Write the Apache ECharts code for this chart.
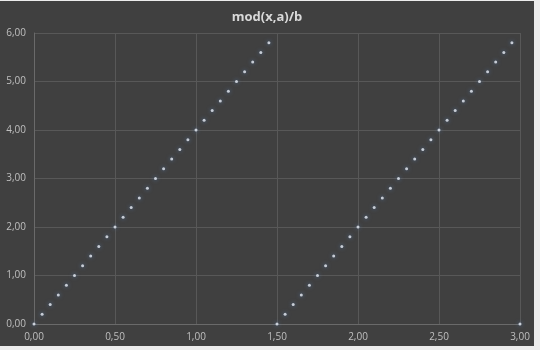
<!DOCTYPE html>
<html><head><meta charset="utf-8">
<script src="https://cdn.jsdelivr.net/npm/echarts@6/dist/echarts.min.js"></script>
<style>html,body{margin:0;padding:0;background:#ececec}#c{position:absolute;left:0;top:1px;width:534px;height:345px}</style>
</head><body><div id="c"></div>
<script>
var titleText = "mod(x,a)/b";
var xValues = [0.00,0.05,0.10,0.15,0.20,0.25,0.30,0.35,0.40,0.45,0.50,0.55,0.60,0.65,0.70,0.75,0.80,0.85,0.90,0.95,
  1.00,1.05,1.10,1.15,1.20,1.25,1.30,1.35,1.40,1.45,1.50,1.55,1.60,1.65,1.70,1.75,1.80,1.85,1.90,1.95,
  2.00,2.05,2.10,2.15,2.20,2.25,2.30,2.35,2.40,2.45,2.50,2.55,2.60,2.65,2.70,2.75,2.80,2.85,2.90,2.95,3.00];
var yValues = [0.0,0.2,0.4,0.6,0.8,1.0,1.2,1.4,1.6,1.8,2.0,2.2,2.4,2.6,2.8,3.0,3.2,3.4,3.6,3.8,
  4.0,4.2,4.4,4.6,4.8,5.0,5.2,5.4,5.6,5.8,0.0,0.2,0.4,0.6,0.8,1.0,1.2,1.4,1.6,1.8,
  2.0,2.2,2.4,2.6,2.8,3.0,3.2,3.4,3.6,3.8,4.0,4.2,4.4,4.6,4.8,5.0,5.2,5.4,5.6,5.8,0.0];
var data = xValues.map(function(x,i){return [x,yValues[i]];});
function fmt(v){return v.toFixed(2).replace('.',',');}
var chart = echarts.init(document.getElementById('c'), null, {renderer:'canvas'});
chart.setOption({
  backgroundColor:'#404040',
  animation:false,
  title:{text:titleText,left:'center',top:5,textStyle:{color:'#d9d9d9',fontSize:13,fontWeight:'bold',fontFamily:'Open Sans'}},
  grid:{left:34,right:14,top:32,bottom:22,containLabel:false},
  xAxis:{type:'value',min:0,max:3,interval:0.5,
    axisLine:{show:true,lineStyle:{color:'#6a6a6a'}},axisTick:{show:false},
    axisLabel:{color:'#bfbfbf',fontSize:10,fontFamily:'Open Sans',formatter:fmt,margin:8},
    splitLine:{show:true,lineStyle:{color:'#585858',width:1}}},
  yAxis:{type:'value',min:0,max:6,interval:1,
    axisLine:{show:true,lineStyle:{color:'#6a6a6a'}},axisTick:{show:false},
    axisLabel:{color:'#bfbfbf',fontSize:10,fontFamily:'Open Sans',formatter:fmt,margin:8},
    splitLine:{show:true,lineStyle:{color:'#585858',width:1}}},
  series:[{type:'scatter',data:data,symbol:'circle',symbolSize:3,
    itemStyle:{color:'#e8eef6',shadowBlur:4,shadowColor:'rgba(90,140,210,0.9)'}}]
});
</script></body></html>
